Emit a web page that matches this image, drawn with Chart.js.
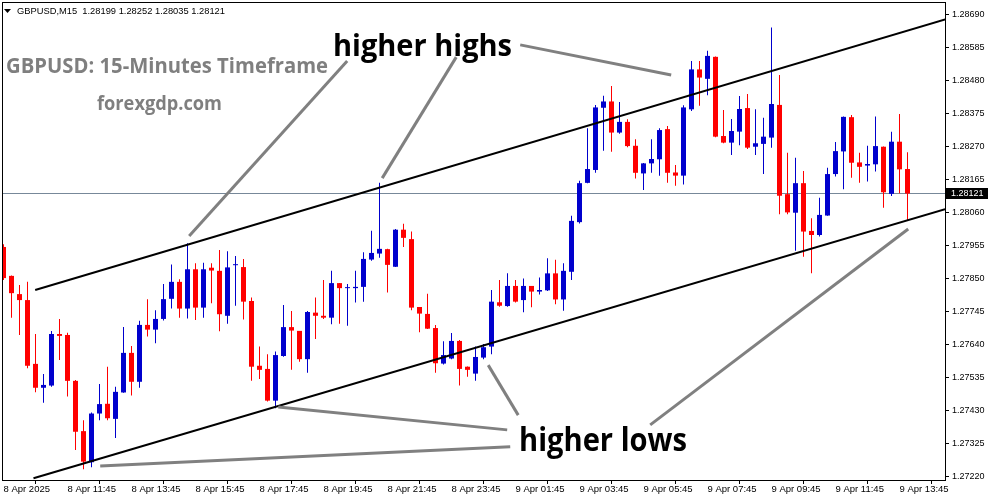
<!DOCTYPE html>
<html>
<head>
<meta charset="utf-8">
<title>GBPUSD M15</title>
<script src="https://cdn.jsdelivr.net/npm/chart.js@4.4.1/dist/chart.umd.min.js"></script>
<style>
  html, body { margin: 0; padding: 0; background: #fff; }
  canvas { display: block; }
</style>
</head>
<body>
<canvas id="chart" width="991" height="501"></canvas>
<script>
// 15 min candles, 8 Apr 09:45 -> 9 Apr 14:00
const opens = [
  1.27951, 1.27859, 1.27801, 1.27782, 1.27579, 1.27503, 1.27510, 1.27674, 1.27671, 1.27525,
  1.27365, 1.27266, 1.27421, 1.27452, 1.27404, 1.27488, 1.27614, 1.27522, 1.27703, 1.27688,
  1.27722, 1.27786, 1.27840, 1.27755, 1.27880, 1.27758, 1.27885, 1.27875, 1.27732, 1.27893,
  1.27887, 1.27779, 1.27573, 1.27563, 1.27462, 1.27604, 1.27696, 1.27684, 1.27594, 1.27742,
  1.27732, 1.27726, 1.27836, 1.27820, 1.27820, 1.27824, 1.27911, 1.27930, 1.27944, 1.27888,
  1.28006, 1.27976, 1.27760, 1.27738, 1.27693, 1.27580, 1.27596, 1.27652, 1.27570, 1.27548,
  1.27599, 1.27634, 1.27775, 1.27763, 1.27827, 1.27782, 1.27827, 1.27809, 1.27813, 1.27867,
  1.27784, 1.27872, 1.28030, 1.28155, 1.28196, 1.28394, 1.28414, 1.28315, 1.28349, 1.28273,
  1.28185, 1.28217, 1.28230, 1.28326, 1.28188, 1.28178, 1.28389, 1.28516, 1.28486, 1.28556,
  1.28304, 1.28283, 1.28318, 1.28393, 1.28270, 1.28279, 1.28299, 1.28403, 1.28119, 1.28060,
  1.28154, 1.28002, 1.27989, 1.28051, 1.28183, 1.28255, 1.28364, 1.28220, 1.28210, 1.28214,
  1.28270, 1.28120, 1.28286, 1.28199
];
const highs = [
  1.27960, 1.27860, 1.27830, 1.27840, 1.27674, 1.27547, 1.27684, 1.27722, 1.27678, 1.27528,
  1.27400, 1.27424, 1.27515, 1.27570, 1.27506, 1.27696, 1.27636, 1.27716, 1.27785, 1.27750,
  1.27833, 1.27895, 1.27848, 1.27963, 1.27899, 1.27901, 1.27899, 1.27941, 1.27937, 1.27922,
  1.27913, 1.27790, 1.27634, 1.27610, 1.27618, 1.27766, 1.27747, 1.27684, 1.27747, 1.27790,
  1.27846, 1.27875, 1.27836, 1.27833, 1.27875, 1.27934, 1.28003, 1.28155, 1.27945, 1.28008,
  1.28025, 1.28000, 1.27760, 1.27802, 1.27703, 1.27651, 1.27677, 1.27655, 1.27571, 1.27634,
  1.27642, 1.27814, 1.27846, 1.27867, 1.27846, 1.27851, 1.27827, 1.27854, 1.27915, 1.27910,
  1.27899, 1.28050, 1.28162, 1.28329, 1.28403, 1.28432, 1.28463, 1.28412, 1.28357, 1.28294,
  1.28218, 1.28294, 1.28329, 1.28336, 1.28212, 1.28402, 1.28543, 1.28543, 1.28575, 1.28557,
  1.28387, 1.28358, 1.28431, 1.28438, 1.28389, 1.28362, 1.28649, 1.28498, 1.28251, 1.28235,
  1.28193, 1.28042, 1.28108, 1.28203, 1.28285, 1.28366, 1.28371, 1.28251, 1.28273, 1.28366,
  1.28271, 1.28318, 1.28374, 1.28252
];
const lows = [
  1.27846, 1.27726, 1.27671, 1.27565, 1.27489, 1.27455, 1.27506, 1.27591, 1.27475, 1.27305,
  1.27244, 1.27250, 1.27400, 1.27400, 1.27343, 1.27487, 1.27478, 1.27503, 1.27666, 1.27645,
  1.27717, 1.27755, 1.27726, 1.27723, 1.27719, 1.27726, 1.27772, 1.27683, 1.27707, 1.27764,
  1.27720, 1.27525, 1.27531, 1.27459, 1.27438, 1.27602, 1.27560, 1.27586, 1.27551, 1.27658,
  1.27722, 1.27705, 1.27707, 1.27700, 1.27774, 1.27777, 1.27907, 1.27917, 1.27806, 1.27887,
  1.27951, 1.27750, 1.27680, 1.27690, 1.27551, 1.27577, 1.27594, 1.27510, 1.27538, 1.27525,
  1.27594, 1.27610, 1.27761, 1.27761, 1.27774, 1.27743, 1.27759, 1.27800, 1.27811, 1.27769,
  1.27748, 1.27846, 1.28026, 1.28154, 1.28187, 1.28257, 1.28254, 1.28311, 1.28268, 1.28169,
  1.28132, 1.28187, 1.28178, 1.28155, 1.28146, 1.28150, 1.28384, 1.28400, 1.28434, 1.28300,
  1.28281, 1.28244, 1.28275, 1.28263, 1.28244, 1.28183, 1.28267, 1.28055, 1.28055, 1.27939,
  1.27920, 1.27867, 1.27984, 1.28050, 1.28175, 1.28135, 1.28171, 1.28155, 1.28159, 1.28191,
  1.28076, 1.28113, 1.28122, 1.28035
];
const closes = [
  1.27852, 1.27804, 1.27782, 1.27573, 1.27503, 1.27512, 1.27674, 1.27668, 1.27525, 1.27363,
  1.27268, 1.27421, 1.27451, 1.27406, 1.27490, 1.27614, 1.27522, 1.27703, 1.27688, 1.27722,
  1.27785, 1.27840, 1.27755, 1.27880, 1.27758, 1.27880, 1.27876, 1.27737, 1.27886, 1.27894,
  1.27777, 1.27570, 1.27560, 1.27462, 1.27607, 1.27696, 1.27685, 1.27594, 1.27744, 1.27732,
  1.27726, 1.27836, 1.27820, 1.27821, 1.27824, 1.27913, 1.27932, 1.27945, 1.27894, 1.28006,
  1.27980, 1.27758, 1.27739, 1.27691, 1.27581, 1.27607, 1.27652, 1.27563, 1.27560, 1.27601,
  1.27632, 1.27777, 1.27764, 1.27827, 1.27777, 1.27827, 1.27809, 1.27814, 1.27867, 1.27784,
  1.27875, 1.28034, 1.28154, 1.28199, 1.28395, 1.28414, 1.28315, 1.28349, 1.28272, 1.28187,
  1.28217, 1.28231, 1.28323, 1.28187, 1.28178, 1.28395, 1.28516, 1.28490, 1.28559, 1.28302,
  1.28283, 1.28320, 1.28390, 1.28267, 1.28281, 1.28302, 1.28406, 1.28114, 1.28061, 1.28154,
  1.28000, 1.27989, 1.28053, 1.28183, 1.28256, 1.28365, 1.28219, 1.28206, 1.28215, 1.28272,
  1.28125, 1.28286, 1.28198, 1.28121
];

const xTickPos = [0, 8, 16, 24, 32, 40, 48, 56, 64, 72, 80, 88, 96, 104, 112];
const xTickText = [
  "8 Apr 2025", "8 Apr 11:45", "8 Apr 13:45", "8 Apr 15:45", "8 Apr 17:45",
  "8 Apr 19:45", "8 Apr 21:45", "8 Apr 23:45", "9 Apr 01:45", "9 Apr 03:45",
  "9 Apr 05:45", "9 Apr 07:45", "9 Apr 09:45", "9 Apr 11:45", "9 Apr 13:45"
];
const yTicks = [
  1.28690, 1.28585, 1.28480, 1.28375, 1.28270, 1.28165, 1.28060, 1.27955,
  1.27850, 1.27745, 1.27640, 1.27535, 1.27430, 1.27325, 1.27220
];
const lastPrice = 1.28121;

// channel and pointer lines, [candle index, price]
const upperChannel = [[3.96, 1.27814], [117.7, 1.28675]];
const lowerChannel = [[3.75, 1.27215], [117.7, 1.28071]];
const pointerLines = [
  [[42.96, 1.28543], [23.21, 1.27986]],
  [[56.59, 1.28555], [47.34, 1.28170]],
  [[64.59, 1.28594], [83.46, 1.28498]],
  [[12.09, 1.27254], [63.34, 1.27315]],
  [[34.34, 1.27442], [62.96, 1.27369]],
  [[60.59, 1.27575], [64.34, 1.27416]],
  [[80.84, 1.27385], [113.09, 1.28008]]
];

const UP = "#0000cd", DOWN = "#ff0000";
const bodies = opens.map((o, i) => ({ x: i, y: [o, closes[i]] }));
const wicks = lows.map((l, i) => ({ x: i, y: [l, highs[i]] }));
const candleColors = opens.map((o, i) => closes[i] >= o ? UP : DOWN);

function fitText(ctx, text, x, base, w, font, color) {
  ctx.save();
  ctx.font = font;
  const m = ctx.measureText(text).width;
  ctx.translate(x, base);
  ctx.scale(w / m, 1);
  ctx.fillStyle = color;
  ctx.textBaseline = "alphabetic";
  ctx.textAlign = "left";
  ctx.fillText(text, 0, 0);
  ctx.restore();
}

const overlay = {
  id: "overlay",
  beforeDatasetsDraw(chart) {
    const { ctx, chartArea: a, scales: { y } } = chart;
    const py = Math.round(y.getPixelForValue(lastPrice)) - 0.5;
    ctx.save();
    ctx.strokeStyle = "#778899";
    ctx.lineWidth = 1;
    ctx.beginPath();
    ctx.moveTo(a.left, py);
    ctx.lineTo(a.right, py);
    ctx.stroke();
    ctx.restore();
  },
  afterDatasetsDraw(chart) {
    const { ctx, chartArea: a, scales: { x, y } } = chart;
    const seg = (pts, color, w) => {
      ctx.strokeStyle = color;
      ctx.lineWidth = w;
      ctx.beginPath();
      ctx.moveTo(x.getPixelForValue(pts[0][0]), y.getPixelForValue(pts[0][1]));
      ctx.lineTo(x.getPixelForValue(pts[1][0]), y.getPixelForValue(pts[1][1]));
      ctx.stroke();
    };
    ctx.save();
    ctx.beginPath();
    ctx.rect(a.left, a.top, a.right - a.left, a.bottom - a.top);
    ctx.clip();
    seg(upperChannel, "#000", 2);
    seg(lowerChannel, "#000", 2);
    pointerLines.forEach(l => seg(l, "#808080", 3));
    ctx.restore();
  },
  afterDraw(chart) {
    const { ctx, chartArea: a, scales: { y } } = chart;
    ctx.save();
    // header
    ctx.fillStyle = "#000";
    ctx.beginPath();
    ctx.moveTo(4, 9); ctx.lineTo(11, 9); ctx.lineTo(7.5, 13);
    ctx.closePath();
    ctx.fill();
    fitText(ctx, "GBPUSD,M15  1.28199 1.28252 1.28035 1.28121", 17, 14, 208,
      "9.5px 'Liberation Sans'", "#000");
    // captions
    fitText(ctx, "GBPUSD: 15-Minutes Timeframe", 6, 73, 322, "bold 21px 'Open Sans'", "#7f7f7f");
    fitText(ctx, "forexgdp.com", 97, 110, 125, "bold 20px 'Open Sans'", "#7f7f7f");
    fitText(ctx, "higher highs", 333, 56, 179, "bold 31px 'Open Sans'", "#000");
    fitText(ctx, "higher lows", 519, 451, 168, "bold 32px 'Open Sans'", "#000");
    // frame
    ctx.strokeStyle = "#000";
    ctx.lineWidth = 1;
    ctx.strokeRect(a.left - 0.5, a.top - 0.5, a.right - a.left + 1, a.bottom - a.top + 1);
    // last price tag
    const py = Math.round(y.getPixelForValue(lastPrice)) - 0.5;
    ctx.fillStyle = "#000";
    ctx.fillRect(a.right + 1, py - 5.5, 42, 11);
    ctx.fillStyle = "#fff";
    ctx.font = "9px 'Liberation Sans'";
    ctx.textBaseline = "middle";
    ctx.fillText(lastPrice.toFixed(5), a.right + 6, py + 0.5);
    ctx.restore();
  }
};

new Chart(document.getElementById("chart"), {
  type: "bar",
  data: {
    datasets: [
      {
        label: "body",
        data: bodies,
        backgroundColor: candleColors,
        barThickness: 5,
        minBarLength: 1,
        grouped: false,
        inflateAmount: 0,
        borderWidth: 0
      },
      {
        label: "wick",
        data: wicks,
        backgroundColor: candleColors,
        barThickness: 1,
        grouped: false,
        inflateAmount: 0,
        borderWidth: 0
      }
    ]
  },
  options: {
    responsive: false,
    animation: false,
    devicePixelRatio: 1,
    events: [],
    layout: { padding: { left: 3, top: 3, right: 0, bottom: 0 } },
    plugins: { legend: { display: false }, tooltip: { enabled: false } },
    scales: {
      x: {
        type: "linear",
        min: -0.0625,
        max: 117.6875,
        offset: false,
        afterBuildTicks: s => { s.ticks = xTickPos.map(v => ({ value: v })); },
        afterFit: s => { s.height = 21; s.paddingLeft = 0; s.paddingRight = 0; },
        grid: { drawOnChartArea: false, tickLength: 4, color: "#000" },
        border: { display: false },
        ticks: {
          autoSkip: false,
          maxRotation: 0,
          align: "start",
          padding: 0,
          color: "#000",
          font: { family: "Liberation Sans", size: 9.5 },
          callback: (v, i) => xTickText[i]
        }
      },
      y: {
        position: "right",
        min: 1.272095,
        max: 1.287273,
        afterBuildTicks: s => { s.ticks = yTicks.map(v => ({ value: v })); },
        afterFit: s => { s.width = 46; s.paddingTop = 0; s.paddingBottom = 0; },
        grid: { drawOnChartArea: false, tickLength: 4, color: "#000" },
        border: { display: false },
        ticks: {
          autoSkip: false,
          padding: 3,
          color: "#000",
          font: { family: "Liberation Sans", size: 9 },
          callback: v => v.toFixed(5)
        }
      }
    }
  },
  plugins: [overlay]
});
</script>
</body>
</html>
